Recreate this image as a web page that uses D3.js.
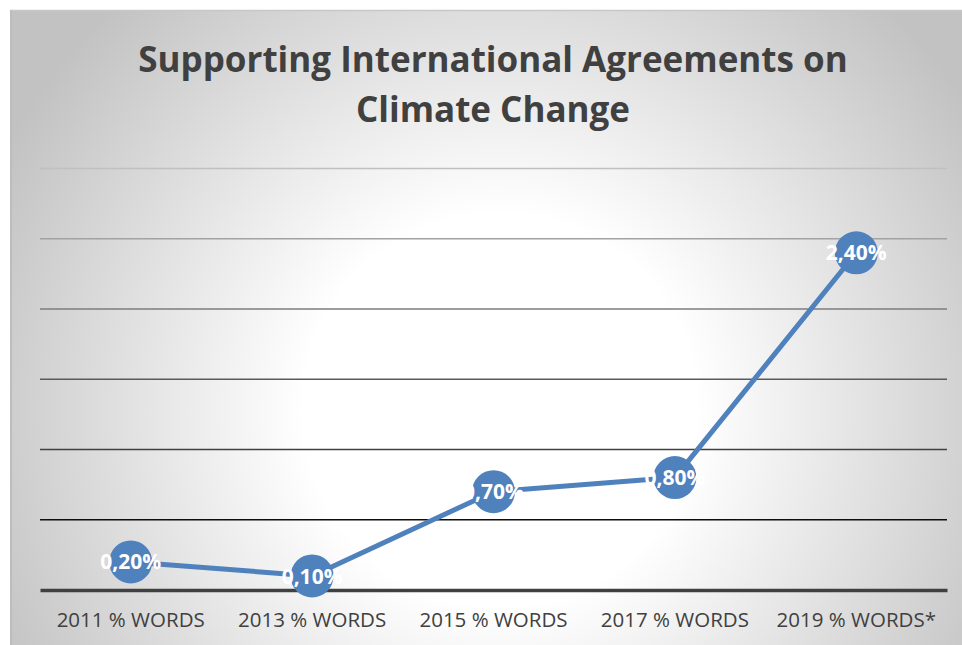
<!DOCTYPE html>
<html>
<head>
<meta charset="utf-8">
<script src="https://cdn.jsdelivr.net/npm/d3@7"></script>
<style>
  html, body { margin: 0; padding: 0; background: #ffffff; }
  svg { display: block; }
</style>
</head>
<body>
<svg id="chart" width="962" height="645"></svg>
<script>
// Share of words devoted to supporting international climate agreements
const categories = ["2011 % WORDS", "2013 % WORDS", "2015 % WORDS", "2017 % WORDS", "2019 % WORDS*"];
const values = [0.2, 0.1, 0.7, 0.8, 2.4];
const valueLabels = ["0,20%", "0,10%", "0,70%", "0,80%", "2,40%"];
const gridTicks = [0.5, 1.0, 1.5, 2.0, 2.5, 3.0];
const titleLines = ["Supporting International Agreements on", "Climate Change"];

const W = 962, H = 645;
const svg = d3.select("#chart");
const defs = svg.append("defs");

// Soft radial background: white centre fading to grey at the edges
const bg = defs.append("radialGradient")
  .attr("id", "bgGrad")
  .attr("gradientUnits", "userSpaceOnUse")
  .attr("cx", 500).attr("cy", 410).attr("r", 560)
  .attr("fx", 500).attr("fy", 410);
bg.append("stop").attr("offset", "0%").attr("stop-color", "#ffffff");
bg.append("stop").attr("offset", "35%").attr("stop-color", "#ffffff");
bg.append("stop").attr("offset", "100%").attr("stop-color", "#c2c2c2");

const frame = { x: 10, y: 10, w: 960, h: 650 };
svg.append("rect")
  .attr("x", frame.x).attr("y", frame.y)
  .attr("width", frame.w).attr("height", frame.h)
  .attr("fill", "url(#bgGrad)");
// frame edges
svg.append("line")
  .attr("x1", frame.x).attr("x2", frame.x + frame.w)
  .attr("y1", frame.y + 0.5).attr("y2", frame.y + 0.5)
  .attr("stroke", "#c8c8c8").attr("stroke-width", 1.5);
svg.append("line")
  .attr("x1", frame.x + 1).attr("x2", frame.x + 1)
  .attr("y1", frame.y).attr("y2", H)
  .attr("stroke", "#bdbdbd").attr("stroke-width", 2);

// Plot area
const plot = { left: 40, right: 947, top: 168.5, bottom: 590 };

const x = d3.scaleBand()
  .domain(categories)
  .range([plot.left, plot.right])
  .paddingInner(0).paddingOuter(0);

const y = d3.scaleLinear()
  .domain([0, 3])
  .range([plot.bottom, plot.top]);

// Gridlines darken towards the baseline
const gridColor = d3.scaleLinear()
  .domain([0.5, 1.0, 1.5, 2.0, 2.5, 3.0])
  .range(["#0d0d0d", "#404040", "#5a5a5a", "#7c7c7c", "#a2a2a2", "#c0c0c0"]);

svg.append("g").attr("class", "grid")
  .selectAll("line")
  .data(gridTicks)
  .join("line")
  .attr("x1", plot.left).attr("x2", plot.right)
  .attr("y1", d => y(d)).attr("y2", d => y(d))
  .attr("stroke", d => gridColor(d))
  .attr("stroke-width", 1.5);

// Category axis along the baseline
const xAxis = svg.append("g")
  .attr("transform", `translate(0,${y(0)})`)
  .call(d3.axisBottom(x).tickSize(0).tickPadding(22));
xAxis.select(".domain")
  .attr("stroke", "#404040")
  .attr("stroke-width", 3.5);
xAxis.selectAll(".tick text")
  .attr("fill", "#404040")
  .style("font-family", "'Open Sans', 'Liberation Sans', sans-serif")
  .style("font-size", "20.5px");

// Series line
const pts = categories.map((c, i) => ({ c, v: values[i], label: valueLabels[i] }));
const line = d3.line()
  .x(d => x(d.c) + x.bandwidth() / 2)
  .y(d => y(d.v));

svg.append("path")
  .datum(pts)
  .attr("d", line)
  .attr("fill", "none")
  .attr("stroke", "#4f81bd")
  .attr("stroke-width", 5)
  .attr("stroke-linejoin", "round");

svg.append("g").selectAll("circle")
  .data(pts)
  .join("circle")
  .attr("cx", d => x(d.c) + x.bandwidth() / 2)
  .attr("cy", d => y(d.v))
  .attr("r", 21.5)
  .attr("fill", "#4f81bd");

svg.append("g").selectAll("text")
  .data(pts)
  .join("text")
  .attr("x", d => x(d.c) + x.bandwidth() / 2)
  .attr("y", d => y(d.v))
  .attr("dy", "0.36em")
  .attr("text-anchor", "middle")
  .attr("fill", "#ffffff")
  .style("font-family", "'Open Sans', 'Liberation Sans', sans-serif")
  .style("font-weight", "700")
  .style("font-size", "21px")
  .text(d => d.label);

// Title
svg.append("g")
  .selectAll("text")
  .data(titleLines)
  .join("text")
  .attr("x", 493)
  .attr("y", (d, i) => 72 + i * 50)
  .attr("text-anchor", "middle")
  .attr("fill", "#404040")
  .style("font-family", "'Open Sans', 'Liberation Sans', sans-serif")
  .style("font-weight", "700")
  .style("font-size", "35px")
  .text(d => d);
</script>
</body>
</html>
